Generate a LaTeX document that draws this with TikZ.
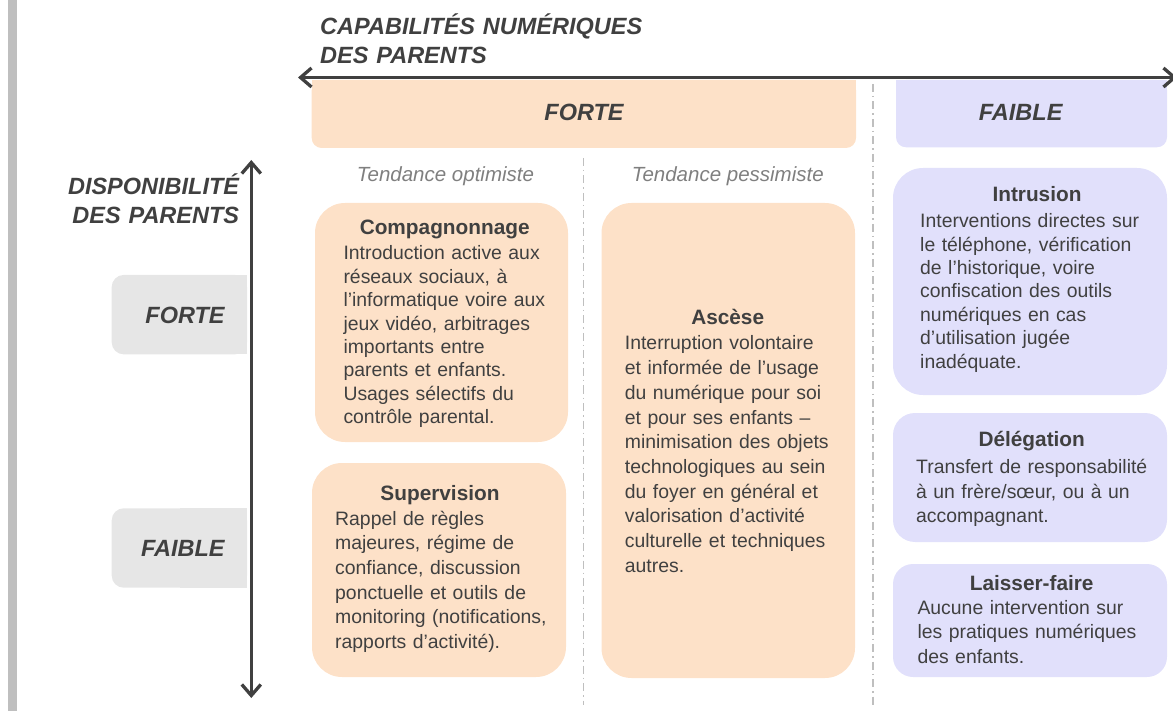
\documentclass[tikz,border=0pt]{standalone}
\usepackage{fontspec}
\setmainfont{Liberation Sans}
\usepackage{xcolor}
\usepackage{tikz}
\usetikzlibrary{arrows.meta}

\definecolor{darktext}{HTML}{404040}
\definecolor{softtext}{HTML}{7F7F7F}
\definecolor{peachfill}{HTML}{FDE1C8}
\definecolor{lilacfill}{HTML}{E1E0FB}
\definecolor{labelgray}{HTML}{E6E6E6}
\definecolor{rulegray}{HTML}{BFBFBF}

\begin{document}
\begin{tikzpicture}[
    x=1pt, y=-1pt,
    peach/.style={rectangle, fill=peachfill, rounded corners=30pt, inner sep=0pt},
    lilac/.style={rectangle, fill=lilacfill, rounded corners=30pt, inner sep=0pt},
    graylabel/.style={rectangle, fill=labelgray, rounded corners=12pt, inner sep=0pt, minimum width=135.3pt, minimum height=79.4pt},
    headlabel/.style={font=\fontsize{23.5}{28.5}\selectfont\bfseries\itshape, text=darktext, inner sep=0pt, anchor=base},
    axislabel/.style={font=\fontsize{23.5}{28.7}\selectfont\bfseries\itshape, text=darktext, inner sep=0pt, text width=340pt},
    subhead/.style={font=\fontsize{20.5}{24}\selectfont\itshape, text=softtext, inner sep=0pt, anchor=base},
    boxtitle/.style={font=\fontsize{20.8}{24}\selectfont\bfseries, text=darktext, inner sep=0pt, anchor=base},
    boxtext/.style={font=\fontsize{19.4}{24.7}\selectfont, text=darktext, inner sep=0pt, anchor=base west, text width=250pt, align=left},
    tightbox/.style={font=\fontsize{19.4}{23.4}\selectfont},
    divider/.style={draw=rulegray, line width=1.5pt, dash pattern=on 8pt off 4pt on 1.5pt off 4pt},
    axisarrow/.style={{Straight Barb[length=11pt,width=19pt]}-{Straight Barb[length=11pt,width=19pt]}, line width=3.3pt, draw=darktext}
]
\useasboundingbox (0,0) rectangle (1173,711);

% Left margin bar
\fill[rulegray] (8,0) rectangle (17,711);

% Column separators
\draw[divider] (583.3,158) -- (583.3,705);
\draw[divider] (873,84) -- (873,705);

% Column headers
\fill[peachfill] (311.7,80) rectangle (856,114);
\fill[lilacfill] (896,80) rectangle (1167,114);
\node[peach, rounded corners=10pt, minimum width=544.3pt, minimum height=68pt] (fortehead) at (583.85,114) {};
\node[lilac, rounded corners=10pt, minimum width=271pt, minimum height=67.3pt] (faiblehead) at (1031.5,113.65) {};
\node[headlabel] (fortetext) at (584,120.7) {FORTE};
\node[headlabel] (faibletext) at (1020.7,120.7) {FAIBLE};

% Row labels
\fill[labelgray] (180,275) rectangle (247,354.3);
\fill[labelgray] (180,508.3) rectangle (247,587.7);
\node[graylabel] (fortebox) at (179.35,314.65) {};
\node[graylabel] (faiblebox) at (179.35,548) {};
\node[headlabel] (forterow) at (185,323.3) {FORTE};
\node[headlabel] (faiblerow) at (182.8,556) {FAIBLE};

% Axis titles
\node[axislabel, anchor=base west, align=left] (captitle) at (320,35) {CAPABILITÉS NUMÉRIQUES\\DES PARENTS};
\node[axislabel, anchor=base east, align=right, text width=200pt] (disptitle) at (239.3,195) {DISPONIBILITÉ\\DES PARENTS};

% Tendencies
\node[subhead] (optimiste) at (445.5,181.7) {Tendance optimiste};
\node[subhead] (pessimiste) at (727.8,181.7) {Tendance pessimiste};

% Strong capabilities
\node[peach, minimum width=253pt, minimum height=239pt] (compbox) at (441.5,322.5) {};
\node[peach, minimum width=254pt, minimum height=214pt] (supbox) at (439,570) {};
\node[peach, minimum width=253.5pt, minimum height=475pt] (ascbox) at (728.25,440.5) {};

\node[boxtitle] (comptitle) at (444.7,234.3) {Compagnonnage};
\node[boxtext, tightbox] (comptext) at (343.3,260) {Introduction active aux\\réseaux sociaux, à\\l’informatique voire aux\\jeux vidéo, arbitrages\\importants entre\\parents et enfants.\\Usages sélectifs du\\contrôle parental.};

\node[boxtitle] (suptitle) at (440,500.7) {Supervision};
\node[boxtext] (suptext) at (335,525) {Rappel de règles\\majeures, régime de\\confiance, discussion\\ponctuelle et outils de\\monitoring (notifications,\\rapports d’activité).};

\node[boxtitle] (asctitle) at (727.7,325) {Ascèse};
\node[boxtext] (asctext) at (624.7,350) {Interruption volontaire\\et informée de l’usage\\du numérique pour soi\\et pour ses enfants –\\minimisation des objets\\technologiques au sein\\du foyer en général et\\valorisation d’activité\\culturelle et techniques\\autres.};

% Weak capabilities
\node[lilac, minimum width=274pt, minimum height=227pt] (intbox) at (1030,281.5) {};
\node[lilac, rounded corners=22pt, minimum width=274pt, minimum height=129pt] (delbox) at (1030,477.5) {};
\node[lilac, rounded corners=20pt, minimum width=274pt, minimum height=113pt] (laibox) at (1030,620.5) {};

\node[boxtitle] (inttitle) at (1037,201.7) {Intrusion};
\node[boxtext, tightbox] (inttext) at (920,227.7) {Interventions directes sur\\le téléphone, vérification\\de l’historique, voire\\confiscation des outils\\numériques en cas\\d’utilisation jugée\\inadéquate.};

\node[boxtitle] (deltitle) at (1031.7,446.7) {Délégation};
\node[boxtext] (deltext) at (916,473.3) {Transfert de responsabilité\\à un frère/sœur, ou à un\\accompagnant.};

\node[boxtitle] (laititle) at (1031.7,590) {Laisser-faire};
\node[boxtext] (laitext) at (917.3,614) {Aucune intervention sur\\les pratiques numériques\\des enfants.};

% Axes
\coordinate (capwest) at (298,77.5);
\coordinate (capeast) at (1177,77.5);
\coordinate (dispnorth) at (251.3,160);
\coordinate (dispsouth) at (251.3,698);
\draw[axisarrow] (capwest) -- (capeast);
\draw[axisarrow] (dispnorth) -- (dispsouth);

\end{tikzpicture}
\end{document}
